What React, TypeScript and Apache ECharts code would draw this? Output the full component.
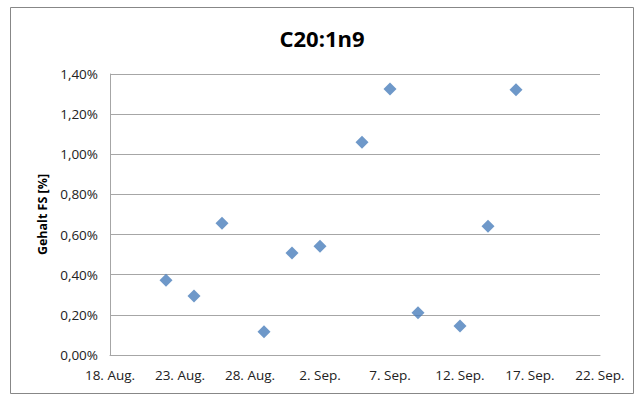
import React, { useEffect, useRef } from "react";
import * as echarts from "echarts";

const title = "C20:1n9";
const yAxisName = "Gehalt FS [%]";
const startDate = "2013-08-18";
const dates = [
  "2013-08-22", "2013-08-24", "2013-08-26", "2013-08-29", "2013-08-31", "2013-09-02",
  "2013-09-05", "2013-09-07", "2013-09-09", "2013-09-12", "2013-09-14", "2013-09-16",
];
const values = [0.372, 0.294, 0.657, 0.116, 0.508, 0.542, 1.06, 1.325, 0.211, 0.144, 0.642, 1.322];
const xTickLabels = ["18. Aug.", "23. Aug.", "28. Aug.", "2. Sep.", "7. Sep.", "12. Sep.", "17. Sep.", "22. Sep."];

const DAY = 86400000;
const dayOffset = (d: string) => Math.round((Date.parse(d + "T00:00:00Z") - Date.parse(startDate + "T00:00:00Z")) / DAY);

export default function App() {
  const ref = useRef<HTMLDivElement>(null);
  useEffect(() => {
    if (!ref.current) return;
    const chart = echarts.init(ref.current, undefined, { renderer: "svg" });
    const font = "Open Sans";
    chart.setOption({
      animation: false,
      backgroundColor: "#ffffff",
      textStyle: { fontFamily: font },
      title: {
        text: title,
        left: "center",
        top: 22,
        textStyle: { fontSize: 22, fontWeight: "bold", color: "#000", fontFamily: font },
      },
      graphic: [
        {
          type: "rect",
          shape: { x: 10.5, y: 7.5, width: 623, height: 386 },
          style: { fill: "none", stroke: "#878787", lineWidth: 1 },
          silent: true,
        },
      ],
      grid: { left: 110, right: 44, top: 74, bottom: 44, containLabel: false },
      xAxis: {
        type: "value",
        min: 0,
        max: 35,
        interval: 5,
        axisLine: { show: true, lineStyle: { color: "#a6a6a6", width: 1 } },
        axisTick: { show: false },
        splitLine: { show: false },
        axisLabel: {
          color: "#222",
          fontSize: 13.5,
          margin: 13,
          formatter: (v: number) => xTickLabels[Math.round(v / 5)] ?? "",
        },
      },
      yAxis: {
        type: "value",
        min: 0,
        max: 1.4,
        interval: 0.2,
        name: yAxisName,
        nameLocation: "middle",
        nameGap: 59,
        nameRotate: 90,
        nameTextStyle: { fontSize: 12.5, fontWeight: "bold", color: "#000" },
        axisLine: { show: true, lineStyle: { color: "#a6a6a6", width: 1 } },
        axisTick: { show: false },
        splitLine: { show: true, lineStyle: { color: "#a6a6a6", width: 1 } },
        axisLabel: {
          color: "#222",
          fontSize: 13.5,
          margin: 12,
          formatter: (v: number) => v.toFixed(2).replace(".", ",") + "%",
        },
      },
      series: [
        {
          type: "scatter",
          symbol: "diamond",
          symbolSize: 13,
          itemStyle: { color: "#4a7ebb" },
          data: dates.map((d, i) => [dayOffset(d), values[i]]),
        },
      ],
    });
    return () => chart.dispose();
  }, []);
  return (
    <div
      ref={ref}
      style={{ position: "fixed", left: 0, top: 0, width: 644, height: 399 }}
    />
  );
}
